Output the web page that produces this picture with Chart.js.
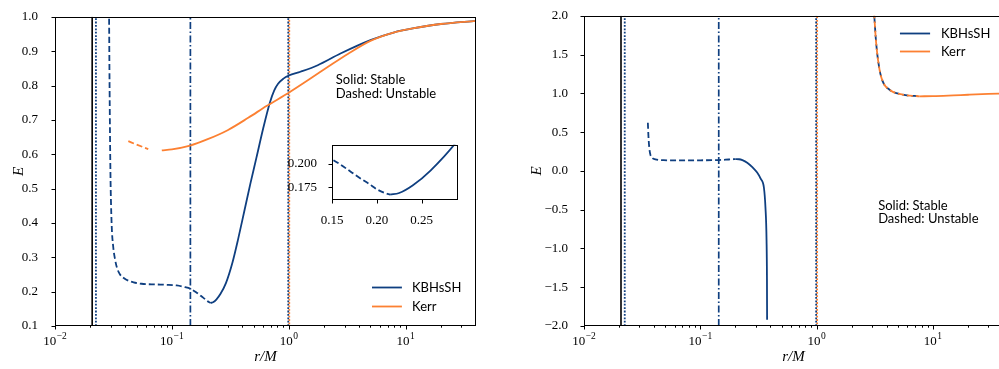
<!DOCTYPE html>
<html>
<head>
<meta charset="utf-8">
<script src="https://cdn.jsdelivr.net/npm/chart.js@4.4.0/dist/chart.umd.min.js"></script>
<style>
  html, body { margin: 0; padding: 0; background: #fff; overflow: hidden; }
  #wrap { position: relative; width: 999px; height: 369px; overflow: hidden; }
  canvas { position: absolute; top: 0; }
</style>
</head>
<body>
<div id="wrap">
  <canvas id="left" width="490" height="369" style="left:0"></canvas>
  <canvas id="right" width="503" height="369" style="left:500px"></canvas>
  <canvas id="inset" width="180" height="100" style="left:285px;top:130px"></canvas>
</div>
<script>
"use strict";

const BLUE = "#0f3f80";
const ORANGE = "#fc8032";

// axis ticks
const X_MAJOR = [0.01, 0.1, 1, 10];
const X_MAJOR_EXP = ["\u22122", "\u22121", "0", "1"];
const X_MINOR = [0.02, 0.03, 0.04, 0.05, 0.06, 0.07, 0.08, 0.09,
  0.2, 0.3, 0.4, 0.5, 0.6, 0.7, 0.8, 0.9, 2, 3, 4, 5, 6, 7, 8, 9, 20, 30];
const LEFT_Y_TICKS = [0.1, 0.2, 0.3, 0.4, 0.5, 0.6, 0.7, 0.8, 0.9, 1.0];
const RIGHT_Y_TICKS = [-2, -1.5, -1, -0.5, 0, 0.5, 1, 1.5, 2];
const INSET_X_TICKS = [0.15, 0.2, 0.25];
const INSET_Y_TICKS = [0.175, 0.2];

// vertical reference radii
const R_HORIZON = 0.0208;
const R_INNER = 0.0224;
const R_DASHDOT = 0.144;
const R_KBH_OUTER = 0.99;
const R_KERR_OUTER = 1.01;

// left panel
const kbhUnstableR = [0.0290, 0.0293, 0.0298, 0.0305, 0.0315, 0.0326, 0.0340, 0.0360, 0.0390, 0.0424,
  0.0470, 0.0550, 0.0716, 0.090, 0.110, 0.130, 0.143, 0.150, 0.160, 0.172, 0.181, 0.191, 0.200, 0.209, 0.215];
const kbhUnstableE = [1.02, 0.80, 0.55, 0.40, 0.33, 0.295, 0.268, 0.250, 0.239, 0.232,
  0.227, 0.223, 0.221, 0.220, 0.218, 0.213, 0.209, 0.205, 0.199, 0.191, 0.185, 0.179, 0.173, 0.169, 0.1672];
const kbhStableR = [0.215, 0.225, 0.24, 0.26, 0.29, 0.33, 0.37, 0.42, 0.47, 0.529, 0.604, 0.689,
  0.75, 0.81, 0.90, 1.0, 1.26, 1.77, 2.77, 5.0, 8.0, 11.5, 20, 40];
const kbhStableE = [0.1672, 0.169, 0.177, 0.193, 0.225, 0.285, 0.355, 0.44, 0.515, 0.59, 0.675, 0.750,
  0.785, 0.805, 0.820, 0.829, 0.840, 0.859, 0.893, 0.932, 0.955, 0.966, 0.979, 0.988];
const kerrUnstableR = [0.0424, 0.050, 0.0628];
const kerrUnstableE = [0.638, 0.628, 0.615];
const kerrStableR = [0.082, 0.10, 0.143, 0.20, 0.30, 0.45, 0.65, 1.0, 1.5, 2.2, 3.2, 5.0, 8.0, 11.5, 20, 40];
const kerrStableE = [0.611, 0.614, 0.625, 0.643, 0.670, 0.706, 0.741, 0.779, 0.818, 0.856, 0.892, 0.930,
  0.955, 0.966, 0.979, 0.988];

// right panel
const kbh2UnstableR = [0.0354, 0.0358, 0.0364, 0.0372, 0.0384, 0.041, 0.0483, 0.060, 0.080, 0.100, 0.144, 0.175, 0.200];
const kbh2UnstableE = [0.62, 0.45, 0.30, 0.21, 0.171, 0.150, 0.138, 0.136, 0.136, 0.137, 0.140, 0.147, 0.152];
const kbh2StableR = [0.200, 0.215, 0.23, 0.253, 0.28, 0.308, 0.33, 0.352, 0.363, 0.371, 0.374, 0.375];
const kbh2StableE = [0.152, 0.150, 0.138, 0.106, 0.05, -0.022, -0.10, -0.214, -0.47, -0.897, -1.4, -1.92];
const kbh2OuterR = [3.10, 3.24, 3.46, 3.70, 4.23, 5.5, 7.7];
const kbh2OuterE = [2.1, 1.667, 1.32, 1.154, 1.047, 0.983, 0.962];
const kerr2UnstableR = [3.10, 3.24, 3.46, 3.70, 4.23, 5.5, 7.7];
const kerr2UnstableE = [2.1, 1.667, 1.32, 1.154, 1.047, 0.983, 0.962];
const kerr2StableR = [7.7, 10, 15, 20, 30, 40];
const kerr2StableE = [0.962, 0.964, 0.974, 0.982, 0.992, 0.997];

const SERIF = "'Liberation Serif', serif";
const TICK_FONT = { family: SERIF, size: 13 };
const TEXT_FONT = "13px Lato, 'Open Sans', sans-serif";
const LABEL_FONT = "italic 15px " + SERIF;

function curve(xs, ys, color, dashed, order, offset) {
  return {
    data: xs.map((x, i) => ({ x: x, y: ys[i] })),
    showLine: true,
    borderColor: color,
    borderWidth: 1.8,
    pointRadius: 0,
    borderDash: dashed ? [6, 3] : [],
    borderDashOffset: offset || 0,
    cubicInterpolationMode: "monotone",
    order: order,
  };
}

function vline(x, y0, y1, color, dash, width, offset) {
  return {
    data: [{ x: x, y: y0 }, { x: x, y: y1 }],
    showLine: true,
    borderColor: color,
    borderWidth: width,
    pointRadius: 0,
    borderDash: dash,
    borderDashOffset: offset || 0,
    order: 5,
  };
}

function markers(y0, y1) {
  return [
    vline(R_HORIZON, y0, y1, "#000", [], 1.6),
    vline(R_INNER, y0, y1, BLUE, [1.8, 1.6], 1.8),
    vline(R_DASHDOT, y0, y1, BLUE, [7, 2.5, 1.5, 2.5], 1.7),
    vline(R_KBH_OUTER, y0, y1, BLUE, [1.8, 1.6], 1.8),
    vline(R_KERR_OUTER, y0, y1, ORANGE, [1.8, 1.6], 1.8, 1.7),
  ];
}

// box around the plot area plus outward tick marks
const frame = {
  id: "frame",
  afterDraw(chart) {
    const { ctx, chartArea: a, scales } = chart;
    const L = Math.round(a.left) + 0.5, R = Math.round(a.right) - 0.5;
    const T = Math.round(a.top) + 0.5, B = Math.round(a.bottom) - 0.5;
    ctx.save();
    ctx.strokeStyle = "#000";
    ctx.lineWidth = 1;
    ctx.strokeRect(L, T, R - L, B - T);
    ctx.beginPath();
    scales.x.ticks.forEach((t) => {
      const px = Math.round(scales.x.getPixelForValue(t.value)) + 0.5;
      ctx.moveTo(px, B);
      ctx.lineTo(px, B + (t.major === false ? 2.2 : 4));
    });
    scales.y.ticks.forEach((t) => {
      const py = Math.round(scales.y.getPixelForValue(t.value)) + 0.5;
      ctx.moveTo(L, py);
      ctx.lineTo(L - 4, py);
    });
    ctx.stroke();
    ctx.restore();
  },
};

// "10" with a raised exponent under each decade tick
const powerLabels = {
  id: "powerLabels",
  afterDraw(chart) {
    const { ctx, chartArea: a, scales } = chart;
    ctx.save();
    ctx.fillStyle = "#000";
    ctx.textBaseline = "alphabetic";
    ctx.textAlign = "left";
    X_MAJOR.forEach((v, i) => {
      const px = scales.x.getPixelForValue(v);
      ctx.font = "13px " + SERIF;
      const wb = ctx.measureText("10").width;
      ctx.font = "9.5px " + SERIF;
      const we = ctx.measureText(X_MAJOR_EXP[i]).width;
      const x0 = px - (wb + we + 0.5) / 2;
      ctx.font = "13px " + SERIF;
      ctx.fillText("10", x0, a.bottom + 19);
      ctx.font = "9.5px " + SERIF;
      ctx.fillText(X_MAJOR_EXP[i], x0 + wb + 0.5, a.bottom + 13);
    });
    ctx.restore();
  },
};

function makeOverlay(cfg) {
  return {
    id: "overlay",
    afterDraw(chart) {
      const { ctx, chartArea: a } = chart;
      const fx = (f) => a.left + f * (a.right - a.left);
      const fy = (f) => a.top + f * (a.bottom - a.top);
      ctx.save();
      ctx.fillStyle = "#000";
      ctx.font = LABEL_FONT;
      ctx.textAlign = "center";
      ctx.textBaseline = "middle";
      ctx.fillText("r/M", (a.left + a.right) / 2, cfg.xLabelY);
      ctx.save();
      ctx.translate(cfg.yLabelX, (a.top + a.bottom) / 2);
      ctx.rotate(-Math.PI / 2);
      ctx.fillText("E", 0, 0);
      ctx.restore();

      ctx.font = TEXT_FONT;
      ctx.textAlign = "left";
      cfg.notes.forEach((txt, i) => ctx.fillText(txt, fx(cfg.noteX), fy(cfg.noteY[i])));

      const entries = [["KBHsSH", BLUE], ["Kerr", ORANGE]];
      entries.forEach(([label, color], i) => {
        const y = Math.round(fy(cfg.legY[i])) + 0.5;
        ctx.strokeStyle = color;
        ctx.lineWidth = 1.8;
        ctx.beginPath();
        ctx.moveTo(fx(cfg.legX[0]), y);
        ctx.lineTo(fx(cfg.legX[1]), y);
        ctx.stroke();
        ctx.fillText(label, fx(cfg.legX[2]), y);
      });
      ctx.restore();
    },
  };
}

function xLogScale(height) {
  const all = X_MAJOR.concat(X_MINOR).sort((p, q) => p - q);
  return {
    type: "logarithmic",
    min: 0.01,
    max: 40,
    afterBuildTicks: (s) => {
      s.ticks = all.map((v) => ({ value: v, major: X_MAJOR.indexOf(v) >= 0 }));
    },
    afterFit: (s) => { s.height = height; },
    grid: { display: false },
    border: { display: false },
    ticks: { autoSkip: false, maxRotation: 0, callback: () => "" },
  };
}

function yScale(min, max, ticks, fmt, width, pad, font) {
  return {
    type: "linear",
    min: min,
    max: max,
    afterBuildTicks: (s) => { s.ticks = ticks.map((v) => ({ value: v })); },
    afterFit: (s) => { s.width = width; },
    grid: { display: false },
    border: { display: false },
    ticks: { padding: pad, color: "#000", font: font || TICK_FONT, callback: fmt },
  };
}

const signed = (v) => (v < 0 ? "\u2212" : "") + Math.abs(v).toFixed(1);

function baseOptions(padding, scales) {
  return {
    responsive: false,
    animation: false,
    layout: { padding: padding },
    plugins: { legend: { display: false }, tooltip: { enabled: false } },
    scales: scales,
  };
}

new Chart(document.getElementById("left"), {
  type: "scatter",
  data: {
    datasets: [
      curve(kerrUnstableR, kerrUnstableE, ORANGE, true, 1),
      curve(kerrStableR, kerrStableE, ORANGE, false, 1),
      curve(kbhUnstableR, kbhUnstableE, BLUE, true, 2),
      curve(kbhStableR, kbhStableE, BLUE, false, 2),
    ].concat(markers(0.1, 1.0)),
  },
  options: baseOptions({ top: 14, right: 14, left: 0, bottom: 0 }, {
    x: xLogScale(43),
    y: yScale(0.1, 1.0, LEFT_Y_TICKS, (v) => v.toFixed(1), 55, 9),
  }),
  plugins: [frame, powerLabels, makeOverlay({
    xLabelY: 357, yLabelX: 19,
    notes: ["Solid: Stable", "Dashed: Unstable"], noteX: 0.667, noteY: [0.205, 0.25],
    legX: [0.753, 0.824, 0.848], legY: [0.875, 0.936],
  })],
});

new Chart(document.getElementById("right"), {
  type: "scatter",
  data: {
    datasets: [
      curve(kerr2UnstableR, kerr2UnstableE, ORANGE, true, 1, 4.5),
      curve(kerr2StableR, kerr2StableE, ORANGE, false, 1),
      curve(kbh2OuterR, kbh2OuterE, BLUE, true, 2),
      curve(kbh2UnstableR, kbh2UnstableE, BLUE, true, 2),
      curve(kbh2StableR, kbh2StableE, BLUE, false, 2),
    ].concat(markers(-2, 2)),
  },
  options: baseOptions({ top: 14, right: 0, left: 0, bottom: 0 }, {
    x: xLogScale(43),
    y: yScale(-2, 2, RIGHT_Y_TICKS, signed, 84, 8),
  }),
  plugins: [frame, powerLabels, makeOverlay({
    xLabelY: 357, yLabelX: 37,
    notes: ["Solid: Stable", "Dashed: Unstable"], noteX: 0.702, noteY: [0.612, 0.654],
    legX: [0.754, 0.826, 0.852], legY: [0.0545, 0.115],
  })],
});

const insetWhite = {
  id: "insetWhite",
  beforeDraw(chart) {
    const a = chart.chartArea;
    chart.ctx.save();
    chart.ctx.fillStyle = "#fff";
    chart.ctx.fillRect(a.left, a.top, a.right - a.left, a.bottom - a.top);
    chart.ctx.restore();
  },
};

const INSET_FONT = { family: SERIF, size: 13 };
new Chart(document.getElementById("inset"), {
  type: "scatter",
  data: {
    datasets: [
      curve(kbhUnstableR, kbhUnstableE, BLUE, true, 1),
      curve(kbhStableR, kbhStableE, BLUE, false, 1),
    ],
  },
  options: baseOptions({ top: 8, right: 7, left: 0, bottom: 0 }, {
    x: {
      type: "linear", min: 0.15, max: 0.2907,
      afterBuildTicks: (s) => { s.ticks = INSET_X_TICKS.map((v) => ({ value: v })); },
      afterFit: (s) => { s.height = 30; },
      grid: { display: false }, border: { display: false },
      ticks: { padding: 5, color: "#000", font: INSET_FONT, maxRotation: 0, autoSkip: false,
        callback: (v) => v.toFixed(2) },
    },
    y: yScale(0.1615, 0.2205, INSET_Y_TICKS, (v) => v.toFixed(3), 47, 7, INSET_FONT),
  }),
  plugins: [insetWhite, frame],
});
</script>
</body>
</html>
